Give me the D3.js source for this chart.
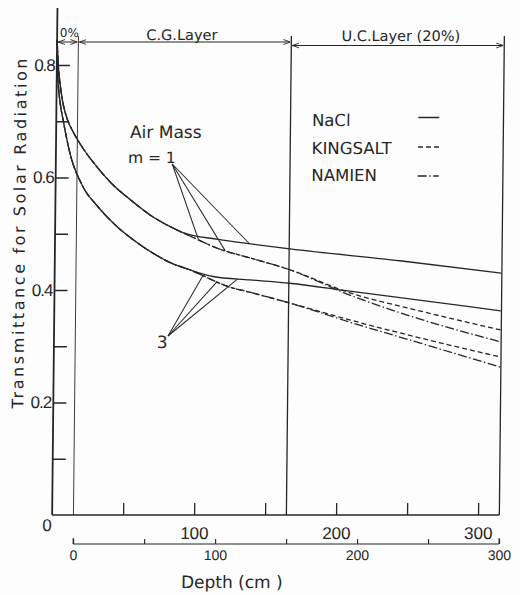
<!DOCTYPE html>
<html>
<head>
<meta charset="utf-8">
<script src="https://cdn.jsdelivr.net/npm/d3@7"></script>
<style>
  body { margin: 0; background: #fdfdfd; }
  svg { display: block; }
</style>
</head>
<body>
<svg id="chart" width="520" height="595"></svg>
<script>
// depth (cm, upper scale) / transmittance
var trunkM1 = [[0,0.845],[1,0.80],[2,0.775],[4,0.74],[8,0.702],[12,0.681],[19,0.652],[28,0.622],[40,0.588],[53,0.560],[67,0.533],[80,0.514],[90,0.502]];
var naclM1Tail = [[115,0.490],[137.6,0.482],[165.5,0.473],[243,0.452],[314.5,0.430]];
var saltM1Mid = [[118,0.471],[137.6,0.457],[165.5,0.436]];
var kingM1Tail = [[208,0.395],[255.5,0.364],[314.5,0.329]];
var namienM1Tail = [[208,0.391],[255.5,0.350],[314.5,0.308]];

var trunkM3 = [[0,0.82],[1,0.77],[2.5,0.735],[5,0.70],[10,0.642],[19,0.585],[30,0.548],[43,0.514],[58,0.484],[70,0.464],[81,0.449],[95,0.436]];
var naclM3Tail = [[111.5,0.424],[137.6,0.418],[165.5,0.412],[208,0.398],[314.5,0.363]];
var saltM3Mid = [[123.6,0.405],[137.7,0.396],[165.5,0.377]];
var kingM3Tail = [[208,0.347],[257.5,0.315],[314.5,0.281]];
var namienM3Tail = [[208,0.343],[257.5,0.306],[314.5,0.263]];

var legendNames = ["NaCl", "KINGSALT", "NAMIEN"];
var layerBounds = [0, 15, 165, 315];
var layerNames = ["0%", "C.G.Layer", "U.C.Layer (20%)"];
var yMajor = [0.2, 0.4, 0.6, 0.8];
var yMinor = [0.1, 0.3, 0.5, 0.7];
var xUpperTicks = [50, 100, 150, 200, 250, 300];
var xLowerTicks = [0, 50, 100, 150, 200, 250, 300];
var lowerOffset = 15;
var m1Leaders = [101, 120, 137];
var m3Leaders = [104.5, 114.5, 129];

var naclM1 = trunkM1.concat(naclM1Tail),
    kingM1 = trunkM1.concat(saltM1Mid, kingM1Tail),
    namienM1 = trunkM1.concat(saltM1Mid, namienM1Tail),
    naclM3 = trunkM3.concat(naclM3Tail),
    kingM3 = trunkM3.concat(saltM3Mid, kingM3Tail),
    namienM3 = trunkM3.concat(saltM3Mid, namienM3Tail);

var ink = "#262626";
var dashes = [null, "5,3", "9,2.5,1.5,2.5"];

var svg = d3.select("#chart");
var x = d3.scaleLinear().domain([0, 315]).range([54.6, 501.8]),
    y = d3.scaleLinear().domain([0, 0.8]).range([515, 65]),
    xLow = d3.scaleLinear().domain([0, 300]).range([x(lowerOffset), x(300 + lowerOffset)]);

// the scan leans a little, so skew the whole drawing
var g = svg.append("g")
    .attr("transform", "translate(0,280) skewX(-0.6) translate(0,-280)");

svg.append("defs").append("marker")
    .attr("id", "arr")
    .attr("viewBox", "0 -5 10 10")
    .attr("refX", 10).attr("refY", 0)
    .attr("markerWidth", 7).attr("markerHeight", 7)
    .attr("markerUnits", "userSpaceOnUse")
    .attr("orient", "auto-start-reverse")
  .append("path")
    .attr("d", "M0,-3.5L10,0L0,3.5")
    .attr("fill", "none").attr("stroke", ink).attr("stroke-width", 1.3);

// axes
var yAxis = g.append("g").attr("transform", "translate(" + x(0) + ",0)")
    .call(d3.axisLeft(y).tickValues(yMajor).tickSize(-13).tickPadding(2).tickFormat(d3.format(".1f")));
g.append("g").attr("transform", "translate(" + x(0) + ",0)")
    .call(d3.axisLeft(y).tickValues(yMinor).tickSize(-13).tickFormat(""));

var xAxis = g.append("g").attr("transform", "translate(0," + y(0) + ")")
    .call(d3.axisBottom(x).tickValues(xUpperTicks).tickSize(-12).tickPadding(12)
      .tickFormat(function(d) { return d % 100 === 0 ? d : ""; }));

var lowAxis = g.append("g").attr("transform", "translate(0,544)")
    .call(d3.axisBottom(xLow).tickValues(xLowerTicks).tickSize(-5).tickPadding(6)
      .tickFormat(function(d) { return d % 100 === 0 ? d : ""; }));

g.selectAll(".tick line").attr("stroke", ink).attr("stroke-width", 1.3);
g.selectAll(".domain").remove();
lowAxis.append("line").attr("x1", xLow(0)).attr("x2", xLow(300))
    .attr("stroke", ink).attr("stroke-width", 1.1);
lowAxis.selectAll(".tick line").attr("stroke-width", 1.1);
[0, 300].forEach(function(v) {
  lowAxis.append("line").attr("x1", xLow(v)).attr("x2", xLow(v)).attr("y1", 0).attr("y2", -6)
      .attr("stroke", ink).attr("stroke-width", 1.1);
});

yAxis.selectAll("text").attr("font-family", "Liberation Sans").attr("font-size", 17)
    .attr("letter-spacing", -1).attr("fill", ink);
xAxis.selectAll("text").attr("font-family", "Liberation Sans").attr("font-size", 17).attr("fill", ink);
lowAxis.selectAll("text").attr("font-family", "Liberation Sans").attr("font-size", 14).attr("fill", ink);

// frame
g.append("line").attr("x1", x(0)).attr("x2", x(0)).attr("y1", 8).attr("y2", y(0))
    .attr("stroke", ink).attr("stroke-width", 1.8);
g.append("line").attr("x1", x(0)).attr("x2", x(315)).attr("y1", y(0)).attr("y2", y(0))
    .attr("stroke", ink).attr("stroke-width", 1.6);
layerBounds.slice(1).forEach(function(b, i) {
  g.append("line").attr("x1", x(b)).attr("x2", x(b)).attr("y1", 36).attr("y2", y(0))
      .attr("stroke", ink).attr("stroke-width", i === 0 ? 0.9 : 1.3);
});

// layer dimension arrows and names
layerNames.forEach(function(name, i) {
  var a = layerBounds[i], b = layerBounds[i + 1], ay = i < 2 ? 42 : 45.5;
  g.append("line").attr("x1", x(a) + 1).attr("x2", x(b) - 1).attr("y1", ay).attr("y2", ay)
      .attr("stroke", ink).attr("stroke-width", 1.1)
      .attr("marker-start", "url(#arr)").attr("marker-end", "url(#arr)");
  g.append("text").attr("x", (x(a) + x(b)) / 2 + (i === 1 ? -3 : i === 2 ? 3 : 1.5))
      .attr("y", i === 0 ? 37 : i === 1 ? 40 : 41)
      .attr("text-anchor", "middle")
      .attr("font-family", "DejaVu Sans").attr("font-size", i === 0 ? 12 : 14.5)
      .attr("fill", ink).text(name);
});

// curves
var line = d3.line().x(function(d) { return x(d[0]); }).y(function(d) { return y(d[1]); })
    .curve(d3.curveMonotoneX);
var curves = [naclM1, kingM1, namienM1, naclM3, kingM3, namienM3];
g.selectAll(".curve").data(curves).enter().append("path")
    .attr("class", "curve")
    .attr("d", line)
    .attr("fill", "none").attr("stroke", ink).attr("stroke-width", 1.3)
    .attr("stroke-dasharray", function(d, i) { return dashes[i % 3]; });

function yAt(pts, d) {
  var i = d3.bisector(function(p) { return p[0]; }).left(pts, d);
  var p0 = pts[i - 1], p1 = pts[i];
  return p0[1] + (p1[1] - p0[1]) * (d - p0[0]) / (p1[0] - p0[0]);
}

// air mass annotations
g.append("text").attr("x", 128.5).attr("y", 138).attr("font-family", "DejaVu Sans")
    .attr("font-size", 17).attr("fill", ink).text("Air Mass");
g.append("text").attr("x", 126.7).attr("y", 163).attr("font-family", "DejaVu Sans")
    .attr("font-size", 15.5).attr("fill", ink).text("m = 1");
g.append("text").attr("x", 163).attr("y", 348).attr("text-anchor", "middle").attr("font-family", "DejaVu Sans")
    .attr("font-size", 17).attr("fill", ink).text("3");

[namienM1, kingM1, naclM1].forEach(function(pts, i) {
  var d = m1Leaders[i];
  g.append("line").attr("x1", 171).attr("y1", 164).attr("x2", x(d)).attr("y2", y(yAt(pts, d)))
      .attr("stroke", ink).attr("stroke-width", 1);
});
[namienM3, kingM3, naclM3].forEach(function(pts, i) {
  var d = m3Leaders[i];
  g.append("line").attr("x1", 168.6).attr("y1", 336).attr("x2", x(d)).attr("y2", y(yAt(pts, d)))
      .attr("stroke", ink).attr("stroke-width", 1);
});

// legend
var legY = [126, 154.5, 181.5], legLineY = [117.5, 147, 176];
legendNames.forEach(function(name, i) {
  g.append("text").attr("x", 310.3).attr("y", legY[i]).attr("font-family", "DejaVu Sans")
      .attr("font-size", 16.5).attr("fill", ink).text(name);
  g.append("line").attr("x1", 416.6).attr("x2", 437.6).attr("y1", legLineY[i]).attr("y2", legLineY[i])
      .attr("stroke", ink).attr("stroke-width", 1.3).attr("stroke-dasharray", dashes[i]);
});

// axis titles
g.append("text").attr("x", 49.6).attr("y", 531).attr("text-anchor", "middle")
    .attr("font-family", "Liberation Sans").attr("font-size", 17).attr("fill", ink).text("0");
g.append("text").attr("x", 235).attr("y", 588).attr("text-anchor", "middle")
    .attr("font-family", "DejaVu Sans").attr("font-size", 17).attr("fill", ink).text("Depth (cm )");
g.append("text").attr("transform", "translate(24.5,233.5) rotate(-90)")
    .attr("text-anchor", "middle").attr("font-family", "DejaVu Sans").attr("font-size", 16)
    .attr("textLength", 350).attr("lengthAdjust", "spacing")
    .attr("fill", ink).text("Transmittance for Solar Radiation");
</script>
</body>
</html>
